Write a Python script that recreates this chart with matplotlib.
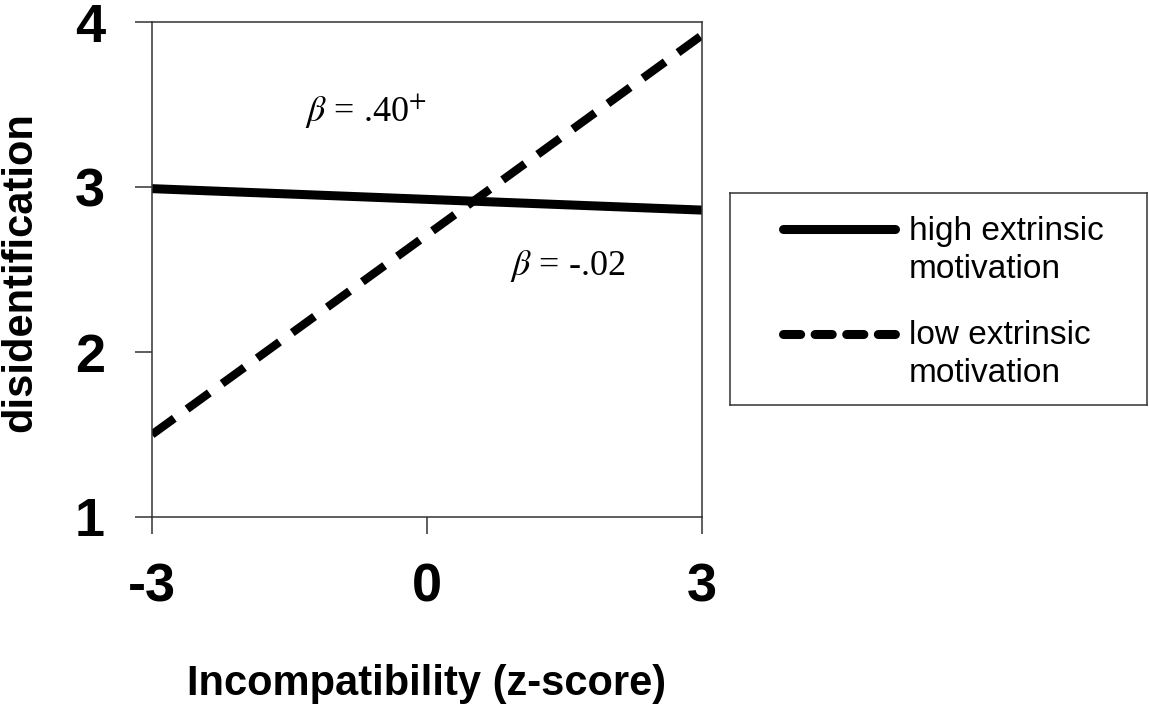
import matplotlib
matplotlib.use("Agg")
import matplotlib.pyplot as plt

# ---- data ----
x_vals = [-3, 3]
high_extrinsic = [2.99, 2.86]
low_extrinsic = [1.50, 3.92]
x_ticks = [-3, 0, 3]
y_ticks = [1, 2, 3, 4]
series_labels = [("high extrinsic", "motivation"), ("low extrinsic", "motivation")]
annot_high = r"$\beta$ = .40$^{+}$"
annot_low = r"$\beta$ = -.02"

plt.rcParams['mathtext.fontset'] = 'stix'
sans = 'Liberation Sans'
serif = 'Liberation Serif'

fig = plt.figure(figsize=(11.49, 7.06), dpi=100)
ax = fig.add_axes([152/1149, 1-517/706, 550/1149, 495/706])

ax.plot(x_vals, high_extrinsic, color='black', lw=6.5, solid_capstyle='butt')
ax.plot(x_vals, low_extrinsic, color='black', lw=6.0, dashes=(3.3, 1.9),
        dash_capstyle='butt')

ax.set_xlim(-3, 3)
ax.set_ylim(1, 4)
ax.set_xticks(x_ticks)
ax.set_yticks(y_ticks)
ax.set_xticklabels([str(t) for t in x_ticks], fontfamily=sans, fontweight='bold', fontsize=39)
ax.set_yticklabels([str(t) for t in y_ticks], fontfamily=sans, fontweight='bold', fontsize=39)
ax.tick_params(axis='x', direction='out', length=12, width=1.1, pad=21, color='#333333')
ax.tick_params(axis='y', direction='out', length=12, width=1.1, pad=22, color='#333333')
for s in ax.spines.values():
    s.set_linewidth(1.1)
    s.set_color('#333333')

ax.set_xlabel("Incompatibility (z-score)", fontfamily=sans, fontweight='bold', fontsize=30)
ax.set_ylabel("disidentification", fontfamily=sans, fontweight='bold', fontsize=30)
ax.xaxis.set_label_coords(0.5, -0.297)
ax.yaxis.set_label_coords(-0.204, 0.494)

ax.text(-1.33, 3.394, annot_high, fontfamily=serif, fontsize=26, va='baseline', ha='left')
ax.text(0.905, 2.467, annot_low, fontfamily=serif, fontsize=26, va='baseline', ha='left')

# ---- legend box ----
lx0, ly0, lx1, ly1 = 730, 193, 1147, 405
lw_px, lh_px = lx1 - lx0, ly1 - ly0
lax = fig.add_axes([lx0/1149, 1-ly1/706, lw_px/1149, lh_px/706])
lax.set_xlim(0, lw_px)
lax.set_ylim(lh_px, 0)
lax.set_xticks([])
lax.set_yticks([])
for s in lax.spines.values():
    s.set_linewidth(1.1)
    s.set_color('#333333')

line_y = [229 - ly0, 334 - ly0]
base1 = [240 - ly0, 344 - ly0]
base2 = [278 - ly0, 382 - ly0]
styles = [dict(lw=6.5, solid_capstyle='round'),
          dict(lw=6.5, dashes=(1.9, 1.6), dash_capstyle='round')]
for i, (l1, l2) in enumerate(series_labels):
    lax.plot([783 - lx0, 895 - lx0], [line_y[i], line_y[i]], color='black', **styles[i])
    lax.text(909 - lx0, base1[i], l1, fontfamily=sans, fontsize=24, va='baseline', ha='left')
    lax.text(909 - lx0, base2[i], l2, fontfamily=sans, fontsize=24, va='baseline', ha='left')

fig.savefig("out.png", dpi=100)
